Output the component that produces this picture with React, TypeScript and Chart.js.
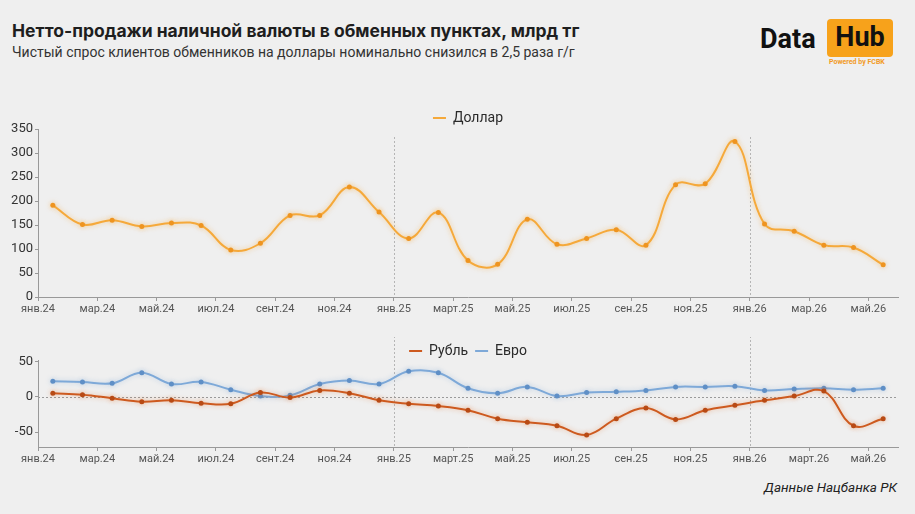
import React, { useEffect, useRef } from "react";
import { Chart, registerables } from "chart.js";

Chart.register(...registerables);

// Months from Jan 2024 to May 2026 (one point per month, plotted mid-month)
const months = [
  "янв.24", "фев.24", "мар.24", "апр.24", "май.24", "июн.24", "июл.24", "авг.24", "сент.24", "окт.24", "ноя.24", "дек.24",
  "янв.25", "фев.25", "март.25", "апр.25", "май.25", "июн.25", "июл.25", "авг.25", "сен.25", "окт.25", "ноя.25", "дек.25",
  "янв.26", "фев.26", "мар.26", "апр.26", "май.26",
];

const tickLabelsTop = [
  "янв.24", "мар.24", "май.24", "июл.24", "сент.24", "ноя.24", "янв.25", "март.25",
  "май.25", "июл.25", "сен.25", "ноя.25", "янв.26", "мар.26", "май.26",
];
const tickLabelsBottom = [
  "янв.24", "мар.24", "май.24", "июл.24", "сент.24", "ноя.24", "янв.25", "март.25",
  "май.25", "июл.25", "сен.25", "ноя.25", "янв.26", "март.26", "май.26",
];

const dollar = [
  191, 151, 160, 147, 154, 149, 98, 112, 170, 170, 229, 177,
  122, 176, 76, 68, 162, 110, 122, 140, 108, 234, 236, 324,
  152, 137, 108, 103, 67,
];
const ruble = [
  5, 3, -2, -7, -5, -9, -10, 6, -1, 9, 5, -5,
  -10, -13, -19, -31, -36, -41, -54, -31, -16, -32, -19, -12,
  -5, 1, 8, -41, -31,
];
const euro = [
  22, 21, 19, 34, 18, 21, 10, 1, 2, 18, 23, 18,
  36, 34, 12, 5, 14, 1, 6, 7, 9, 14, 14, 15,
  9, 11, 12, 10, 12,
];

const yearStarts = [12, 24];

const yTicksTop = [0, 50, 100, 150, 200, 250, 300, 350];
const yTicksBottom = [-50, 0, 50];

const FONT = "Roboto, 'Noto Sans', sans-serif";

const guidesPlugin = {
  id: "guides",
  beforeDatasetsDraw(chart: any, _args: any, opts: any) {
    const { ctx, chartArea, scales } = chart;
    ctx.save();
    ctx.strokeStyle = "#b5b5b5";
    ctx.lineWidth = 1;
    ctx.setLineDash([2, 2]);
    const top = chartArea.top + (opts.topOffset || 0);
    for (const m of opts.marks || []) {
      const x = Math.round(scales.x.getPixelForValue(m)) + 0.5;
      ctx.beginPath();
      ctx.moveTo(x, top);
      ctx.lineTo(x, chartArea.bottom);
      ctx.stroke();
    }
    if (opts.zero) {
      const y = Math.round(scales.y.getPixelForValue(0)) + 0.5;
      ctx.strokeStyle = "#9a9a9a";
      ctx.beginPath();
      ctx.moveTo(chartArea.left, y);
      ctx.lineTo(chartArea.right, y);
      ctx.stroke();
    }
    ctx.restore();
  },
};

const glowPlugin = {
  id: "glow",
  beforeDatasetDraw(chart: any, args: any) {
    const ds = chart.data.datasets[args.index];
    chart.ctx.save();
    chart.ctx.shadowColor = ds.glowColor || "rgba(0,0,0,0)";
    chart.ctx.shadowBlur = 5;
  },
  afterDatasetDraw(chart: any) {
    chart.ctx.restore();
  },
};

function makeXScale(labels: string[]) {
  return {
    type: "linear" as const,
    min: 0,
    max: 29,
    afterBuildTicks: (axis: any) => {
      axis.ticks = labels.map((_, k) => ({ value: k * 2 }));
    },
    afterFit: (axis: any) => {
      axis.height = 22;
    },
    ticks: {
      autoSkip: false,
      maxRotation: 0,
      padding: 2,
      color: "#555",
      font: { family: FONT, size: 11 },
      callback: (v: any) => labels[Math.round(v / 2)] ?? "",
    },
    grid: {
      drawOnChartArea: false,
      drawTicks: true,
      tickLength: 4,
      color: "#999",
    },
    border: { display: true, color: "#999" },
  };
}

function makeYScale(min: number, max: number, values: number[]) {
  return {
    min,
    max,
    afterBuildTicks: (axis: any) => {
      axis.ticks = values.map((v) => ({ value: v }));
    },
    afterFit: (axis: any) => {
      axis.width = 38;
    },
    ticks: {
      padding: 2,
      color: "#333",
      font: { family: FONT, size: 13 },
    },
    grid: {
      drawOnChartArea: false,
      drawTicks: true,
      tickLength: 3,
      color: "#999",
    },
    border: { display: true, color: "#999" },
  };
}

function legendOpts(maxHeight: number) {
  return {
    display: true,
    position: "top" as const,
    align: "center" as const,
    fullSize: false,
    maxHeight,
    labels: {
      boxWidth: 13,
      boxHeight: 2,
      padding: 7,
      color: "#2a2a2a",
      font: { family: FONT, size: 14 },
      generateLabels: (chart: any) =>
        Chart.defaults.plugins.legend.labels.generateLabels(chart).map((l: any) => ({
          ...l,
          fillStyle: l.strokeStyle,
          lineWidth: 0,
        })),
    },
  };
}

function lineDataset(label: string, values: number[], color: string, pointColor: string, glow: string) {
  return {
    label,
    data: values.map((v, i) => ({ x: i + 0.5, y: v })),
    borderColor: color,
    backgroundColor: color,
    borderWidth: 2,
    pointRadius: 2.5,
    pointBackgroundColor: pointColor,
    pointBorderColor: pointColor,
    pointBorderWidth: 0,
    tension: 0.4,
    glowColor: glow,
  } as any;
}

function TopChart() {
  const ref = useRef<HTMLCanvasElement>(null);
  useEffect(() => {
    if (!ref.current) return;
    const chart = new Chart(ref.current, {
      type: "line",
      data: {
        datasets: [lineDataset("Доллар", dollar, "#f5a93b", "#ee9420", "rgba(245,169,59,0.55)")],
      },
      options: {
        animation: false,
        responsive: false,
        maintainAspectRatio: false,
        layout: { padding: { left: 0, right: 17, top: 0, bottom: 6 } },
        scales: {
          x: makeXScale(tickLabelsTop),
          y: makeYScale(0, 350, yTicksTop),
        },
        plugins: {
          legend: legendOpts(25),
          tooltip: { enabled: false },
          guides: { marks: yearStarts, topOffset: 8, zero: false },
        } as any,
      },
      plugins: [guidesPlugin, glowPlugin],
    });
    return () => chart.destroy();
  }, []);
  return <canvas ref={ref} width={915} height={221} style={{ position: "absolute", left: 0, top: 104, width: 915, height: 221 }} />;
}

function BottomChart() {
  const ref = useRef<HTMLCanvasElement>(null);
  useEffect(() => {
    if (!ref.current) return;
    const chart = new Chart(ref.current, {
      type: "line",
      data: {
        datasets: [
          lineDataset("Рубль", ruble, "#cd5a1f", "#b84a14", "rgba(230,120,50,0.45)"),
          lineDataset("Евро", euro, "#7ea9d8", "#5f8fc6", "rgba(126,169,216,0.45)"),
        ],
      },
      options: {
        animation: false,
        responsive: false,
        maintainAspectRatio: false,
        layout: { padding: { left: 0, right: 17, top: 0, bottom: 1 } },
        scales: {
          x: makeXScale(tickLabelsBottom),
          y: makeYScale(-71, 52, yTicksBottom),
        },
        plugins: {
          legend: legendOpts(23),
          tooltip: { enabled: false },
          guides: { marks: yearStarts, topOffset: -24, zero: true },
        } as any,
      },
      plugins: [guidesPlugin, glowPlugin],
    });
    return () => chart.destroy();
  }, []);
  return <canvas ref={ref} width={915} height={133} style={{ position: "absolute", left: 0, top: 337, width: 915, height: 133 }} />;
}

export default function App() {
  return (
    <div
      style={{
        position: "absolute",
        left: 0,
        top: 0,
        width: 915,
        height: 514,
        background: "#efefef",
        fontFamily: FONT,
        overflow: "hidden",
      }}
    >
      <div style={{ position: "absolute", left: 12, top: 20, fontSize: 17.5, fontWeight: 700, fontFamily: "Inter, Roboto, sans-serif", color: "#1e1e1e", whiteSpace: "nowrap" }}>
        Нетто-продажи наличной валюты в обменных пунктах, млрд тг
      </div>
      <div style={{ position: "absolute", left: 12, top: 44, fontSize: 14, color: "#333", whiteSpace: "nowrap" }}>
        Чистый спрос клиентов обменников на доллары номинально снизился в 2,5 раза г/г
      </div>
      <div style={{ position: "absolute", left: 760, top: 21, fontSize: 27, fontWeight: 700, color: "#111", lineHeight: "36px" }}>
        Data
      </div>
      <div
        style={{
          position: "absolute",
          left: 827,
          top: 19,
          width: 66,
          height: 38,
          background: "#f7a21b",
          borderRadius: 4,
          fontSize: 27,
          fontWeight: 700,
          color: "#111",
          lineHeight: "36px",
          textAlign: "center",
        }}
      >
        Hub
      </div>
      <div style={{ position: "absolute", left: 829, top: 58, fontSize: 7, fontWeight: 700, color: "#f29a1f", whiteSpace: "nowrap" }}>
        Powered by FCBK
      </div>
      <TopChart />
      <BottomChart />
      <div style={{ position: "absolute", right: 18, top: 479, fontSize: 13.5, fontStyle: "italic", color: "#222", whiteSpace: "nowrap" }}>
        Данные Нацбанка РК
      </div>
    </div>
  );
}
